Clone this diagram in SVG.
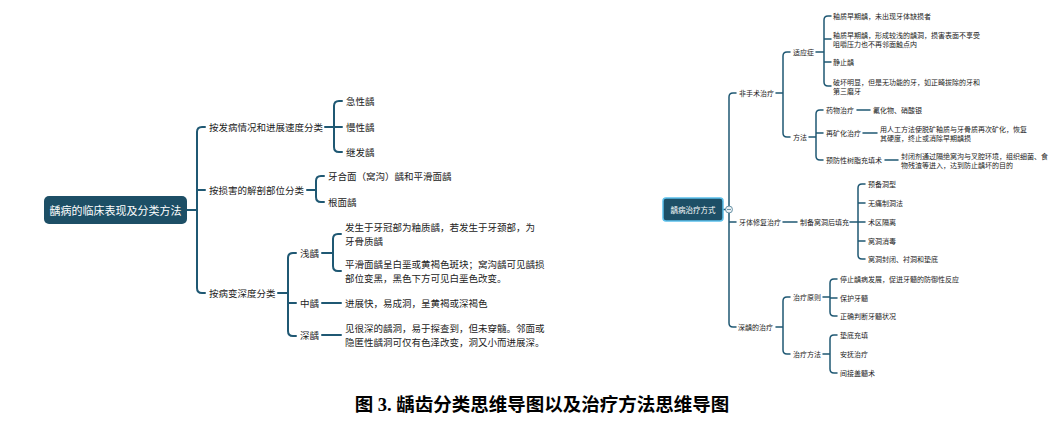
<svg xmlns="http://www.w3.org/2000/svg" width="1055" height="432" viewBox="0 0 1055 432">
<style>
.c{fill:none;stroke:#1f5873;stroke-linecap:round;stroke-linejoin:round}
.l{stroke-width:2}
.r{stroke-width:1.5}
text{font-family:"Noto Sans CJK SC","Noto Sans",sans-serif;fill:#222;dominant-baseline:central}
.t1{font-size:9.5px}
.t2{font-size:7px}
.root{fill:#fff;text-anchor:middle}
.cap{font-family:"Liberation Serif","Noto Sans CJK SC",serif;font-size:18.5px;font-weight:bold;fill:#000;text-anchor:middle}
</style>
<rect width="1055" height="432" fill="#fff"/>
<g id="connectors">
<!-- left map -->
<path class="c l" d="M187,210 H197 M205,127 H202 Q197,127 197,132 V288 Q197,293 202,293 H205 M197,190 H205"/>
<path class="c l" d="M325,127 H342 M342,101 H339 Q334,101 334,106 V147 Q334,152 339,152 H342"/>
<path class="c l" d="M307,190 H316 M324,176 H321 Q316,176 316,181 V197 Q316,202 321,202 H324"/>
<path class="c l" d="M278,293 H288 M296,253 H293 Q288,253 288,258 V331 Q288,336 293,336 H296 M288,303 H296"/>
<path class="c l" d="M322,253 H333 M341,234 H338 Q333,234 333,239 V266 Q333,271 338,271 H341"/>
<path class="c l" d="M322,303 H341 M322,335 H341"/>
<!-- right map -->
<path class="c r" d="M723,209.5 H726 M736,93 H733 Q729,93 729,97 V323 Q729,327 733,327 H736 M729,222 H736"/>
<path class="c r" d="M776,93 H783 M790,52 H787 Q783,52 783,56 V133 Q783,137 787,137 H790"/>
<path class="c r" d="M816,52 H824 M831,16 H828 Q824,16 824,20 V82 Q824,86 828,86 H831 M824,39 H831 M824,62 H831"/>
<path class="c r" d="M809,137 H816 M823,110 H820 Q816,110 816,114 V156 Q816,160 820,160 H823 M816,133 H823"/>
<path class="c r" d="M857,110 H870 M863,133 H877 M885,160 H898"/>
<path class="c r" d="M783,222 H797 M850,222 H865 M865,184 H862 Q858,184 858,188 V255 Q858,259 862,259 H865 M858,203 H865 M858,241 H865"/>
<path class="c r" d="M776,327 H783 M790,297 H787 Q783,297 783,301 V350 Q783,354 787,354 H790"/>
<path class="c r" d="M823,297 H830 M837,279 H834 Q830,279 830,283 V312 Q830,316 834,316 H837 M830,298 H837"/>
<path class="c r" d="M823,354 H830 M837,335 H834 Q830,335 830,339 V369 Q830,373 834,373 H837"/>
</g>
<g id="left-root">
<rect x="44" y="196" width="143" height="28" rx="5" fill="#1d4f66"/>
<text class="t1 root" x="115.5" y="210" style="font-size:11px">龋病的临床表现及分类方法</text>
</g>
<g id="l-b1"><text class="t1" x="209" y="127">按发病情况和进展速度分类</text></g>
<g id="l-b1-1"><text class="t1" x="346" y="101">急性龋</text></g>
<g id="l-b1-2"><text class="t1" x="346" y="127">慢性龋</text></g>
<g id="l-b1-3"><text class="t1" x="346" y="152">继发龋</text></g>
<g id="l-b2"><text class="t1" x="209" y="190">按损害的解剖部位分类</text></g>
<g id="l-b2-1"><text class="t1" x="328" y="176">牙合面（窝沟）龋和平滑面龋</text></g>
<g id="l-b2-2"><text class="t1" x="328" y="202">根面龋</text></g>
<g id="l-b3"><text class="t1" x="209" y="293">按病变深度分类</text></g>
<g id="l-b3-1"><text class="t1" x="300" y="253">浅龋</text></g>
<g id="l-b3-1-1"><text class="t1" x="345" y="227">发生于牙冠部为釉质龋，若发生于牙颈部，为</text><text class="t1" x="345" y="241">牙骨质龋</text></g>
<g id="l-b3-1-2"><text class="t1" x="345" y="264">平滑面龋呈白垩或黄褐色斑块；窝沟龋可见龋损</text><text class="t1" x="345" y="278">部位变黑，黑色下方可见白垩色改变。</text></g>
<g id="l-b3-2"><text class="t1" x="300" y="303">中龋</text></g>
<g id="l-b3-2-1"><text class="t1" x="345" y="303">进展快，易成洞，呈黄褐或深褐色</text></g>
<g id="l-b3-3"><text class="t1" x="300" y="335">深龋</text></g>
<g id="l-b3-3-1"><text class="t1" x="345" y="328">见很深的龋洞，易于探查到，但未穿髓。邻面或</text><text class="t1" x="345" y="342">隐匿性龋洞可仅有色泽改变，洞又小而进展深。</text></g>
<g id="right-root">
<rect x="663" y="198" width="60" height="23" rx="3" fill="#1d4f66" stroke="#5bc0eb" stroke-width="1.5"/>
<text class="t2 root" x="693" y="209.5" style="font-size:7.5px">龋病治疗方式</text>
<circle cx="729" cy="209.5" r="3.5" fill="#e9eff3" stroke="#4d7f96" stroke-width="0.8"/>
<path d="M727,209.5 H731" stroke="#4d7f96" stroke-width="0.8"/>
</g>
<g id="r-b1"><text class="t2" x="739" y="93">非手术治疗</text></g>
<g id="r-b1-1"><text class="t2" x="793" y="52">适应症</text></g>
<g id="r-b1-1-1"><text class="t2" x="833" y="16">釉质早期龋，未出现牙体缺损者</text></g>
<g id="r-b1-1-2"><text class="t2" x="833" y="35">釉质早期龋，形成较浅的龋洞，损害表面不享受</text><text class="t2" x="833" y="44">咀嚼压力也不再邻面触点内</text></g>
<g id="r-b1-1-3"><text class="t2" x="833" y="62">静止龋</text></g>
<g id="r-b1-1-4"><text class="t2" x="833" y="82">破坏明显，但是无功能的牙，如正畸拔除的牙和</text><text class="t2" x="833" y="91">第三磨牙</text></g>
<g id="r-b1-2"><text class="t2" x="793" y="137">方法</text></g>
<g id="r-b1-2-1"><text class="t2" x="826" y="110">药物治疗</text><text class="t2" x="873" y="110">氟化物、硝酸银</text></g>
<g id="r-b1-2-2"><text class="t2" x="826" y="133">再矿化治疗</text><text class="t2" x="880" y="129">用人工方法使脱矿釉质与牙骨质再次矿化，恢复</text><text class="t2" x="880" y="138">其硬度，终止或消除早期龋损</text></g>
<g id="r-b1-2-3"><text class="t2" x="826" y="160">预防性树脂充填术</text><text class="t2" x="901" y="156">封闭剂通过隔绝窝沟与叉腔环境，组织细菌、食</text><text class="t2" x="901" y="165">物残渣等进入，达到防止龋坏的目的</text></g>
<g id="r-b2"><text class="t2" x="739" y="222">牙体修复治疗</text><text class="t2" x="800" y="222">制备窝洞后填充</text></g>
<g id="r-b2-1"><text class="t2" x="868" y="184">预备洞型</text></g>
<g id="r-b2-2"><text class="t2" x="868" y="203">无痛制洞法</text></g>
<g id="r-b2-3"><text class="t2" x="868" y="222">术区隔离</text></g>
<g id="r-b2-4"><text class="t2" x="868" y="241">窝洞消毒</text></g>
<g id="r-b2-5"><text class="t2" x="868" y="259">窝洞封闭、衬洞和垫底</text></g>
<g id="r-b3"><text class="t2" x="738" y="327">深龋的治疗</text></g>
<g id="r-b3-1"><text class="t2" x="793" y="297">治疗原则</text></g>
<g id="r-b3-1-1"><text class="t2" x="840" y="279">停止龋病发展，促进牙髓的防御性反应</text></g>
<g id="r-b3-1-2"><text class="t2" x="840" y="298">保护牙髓</text></g>
<g id="r-b3-1-3"><text class="t2" x="840" y="316">正确判断牙髓状况</text></g>
<g id="r-b3-2"><text class="t2" x="793" y="354">治疗方法</text></g>
<g id="r-b3-2-1"><text class="t2" x="840" y="335">垫底充填</text></g>
<g id="r-b3-2-2"><text class="t2" x="840" y="354">安抚治疗</text></g>
<g id="r-b3-2-3"><text class="t2" x="840" y="373">间接盖髓术</text></g>
<text class="cap" x="542" y="405">图 3. 龋齿分类思维导图以及治疗方法思维导图</text>
</svg>
